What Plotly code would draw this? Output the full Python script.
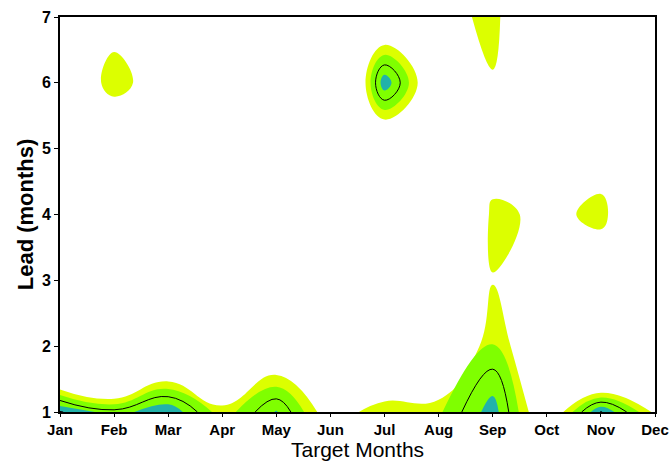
import plotly.graph_objects as go

# Target months (x) and forecast lead (y)
months = ["Jan", "Feb", "Mar", "Apr", "May", "Jun",
          "Jul", "Aug", "Sep", "Oct", "Nov", "Dec"]
leads = [1, 2, 3, 4, 5, 6, 7]

# Skill score for each lead (row) and target month (column)
skill_lead1 = [0.605, 0.520, 0.600, 0.415, 0.555, 0.350, 0.445, 0.440, 0.580, 0.310, 0.605, 0.385]
skill_lead2 = [0.005, -0.080, 0.170, 0.265, 0.280, 0.200, 0.165, 0.225, 0.457, 0.285, -0.095, 0.100]
skill_lead3 = [0.000, 0.000, 0.100, 0.100, 0.100, 0.100, 0.100, 0.150, 0.396, 0.250, 0.313, 0.100]
skill_lead4 = [0.050, 0.100, 0.150, 0.150, 0.150, 0.150, 0.150, 0.000, 0.430, 0.370, 0.425, 0.235]
skill_lead5 = [0.100, 0.212, 0.200, 0.150, 0.150, 0.150, 0.250, 0.200, 0.300, 0.250, 0.345, 0.200]
skill_lead6 = [0.240, 0.450, 0.307, 0.200, 0.150, 0.050, 0.590, 0.280, 0.395, 0.250, 0.200, 0.150]
skill_lead7 = [0.200, 0.343, 0.250, 0.200, 0.200, 0.200, 0.260, 0.368, 0.420, 0.277, 0.200, 0.150]

skill = [skill_lead1, skill_lead2, skill_lead3, skill_lead4,
         skill_lead5, skill_lead6, skill_lead7]

# Contour levels: shading from 0.40 upward, black lines at 0.50 and 0.60
level_start, level_end, level_step = 0.40, 0.60, 0.05

x_pos = list(range(1, len(months) + 1))

WHITE = "#ffffff"
YELLOW = "#dcff00"
GREEN = "#7fff00"
TEAL = "#22b2aa"

fill_scale = [
    [0.0, WHITE], [0.1, WHITE],
    [0.1, YELLOW], [0.3, YELLOW],
    [0.3, GREEN], [0.7, GREEN],
    [0.7, TEAL], [1.0, TEAL],
]

fig = go.Figure()

fig.add_trace(go.Contour(
    x=x_pos, y=leads, z=skill,
    autocontour=False,
    contours=dict(start=level_start, end=level_end, size=level_step,
                  coloring="fill", showlines=False),
    colorscale=fill_scale,
    line=dict(width=0, smoothing=1.3),
    showscale=False,
    hoverinfo="skip",
))

fig.add_trace(go.Contour(
    x=x_pos, y=leads, z=skill,
    autocontour=False,
    contours=dict(start=0.50, end=0.60, size=0.10, coloring="none"),
    line=dict(color="black", width=1, smoothing=1.3),
    showscale=False,
    hoverinfo="skip",
))

FONT = "Liberation Sans, Arial, sans-serif"
tick_font = dict(family=FONT, size=15, color="black", weight="bold")

fig.update_layout(
    width=672, height=462,
    margin=dict(l=60, r=17, t=17, b=50),
    paper_bgcolor="white", plot_bgcolor="white",
    showlegend=False,
    xaxis=dict(
        range=[1, 12], tickmode="array", tickvals=x_pos, ticktext=months,
        showgrid=False, zeroline=False, automargin=False,
        showline=True, linecolor="black", linewidth=2, mirror=True,
        ticks="outside", ticklen=3, tickwidth=1, tickcolor="black",
        tickfont=tick_font,
    ),
    yaxis=dict(
        range=[1, 7], tickmode="linear", tick0=1, dtick=1,
        showgrid=False, zeroline=False, automargin=False,
        showline=True, linecolor="black", linewidth=2, mirror=True,
        ticks="outside", ticklen=4, tickwidth=1, tickcolor="black",
        tickfont=dict(family=FONT, size=16, color="black", weight="bold"),
        title=dict(text="Lead (months)", standoff=2,
                   font=dict(family=FONT, size=22, color="black", weight="bold")),
    ),
    annotations=[dict(
        text="Target Months", xref="paper", yref="paper",
        x=0.5, y=0.0, xanchor="center", yanchor="top", yshift=-25,
        showarrow=False, borderpad=0,
        font=dict(family=FONT, size=21, color="black"),
    )],
)

fig.write_html("out.html")
